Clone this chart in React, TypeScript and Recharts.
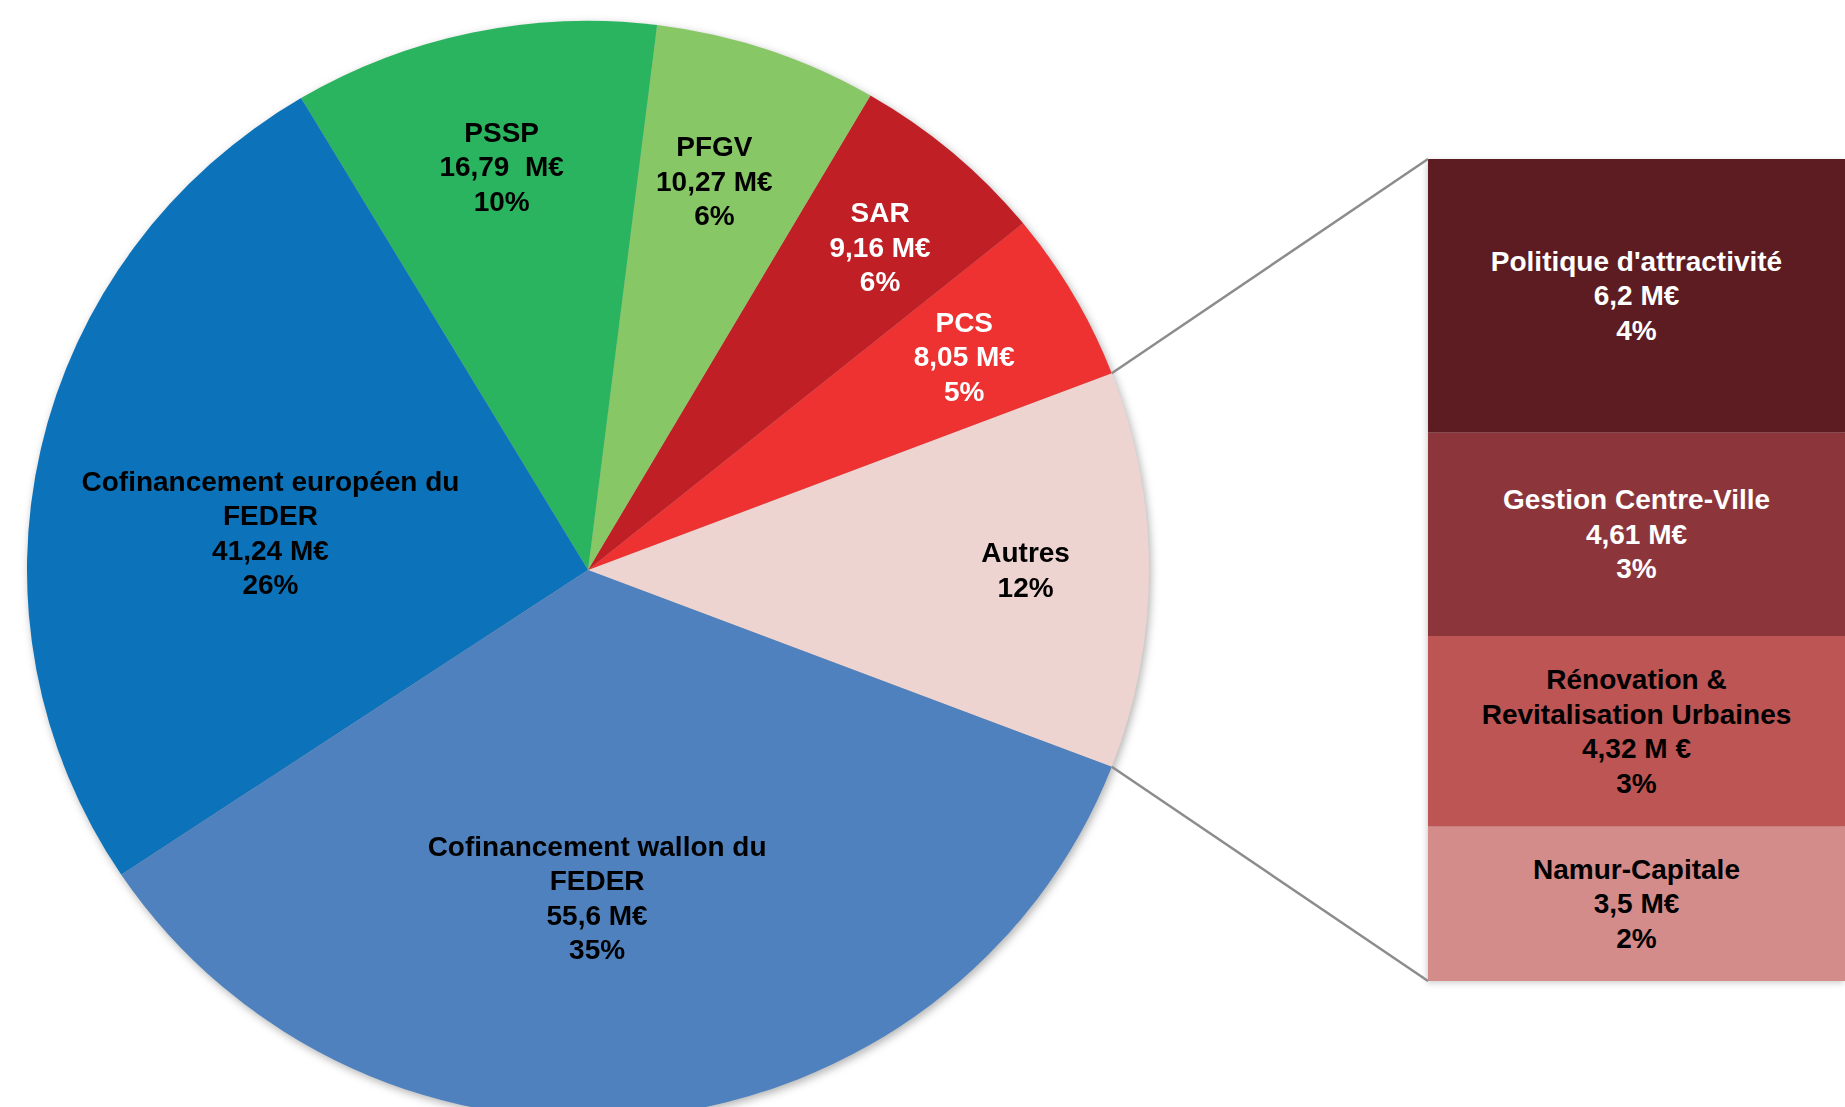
import React from "react";
import { PieChart, Pie, Cell, BarChart, Bar, XAxis, YAxis, LabelList } from "recharts";

// main pie, listed counter-clockwise starting at 3 o'clock with "Autres"
const pieNames = ["Autres", "PCS", "SAR", "PFGV", "PSSP", "Cofinancement européen du\nFEDER", "Cofinancement wallon du\nFEDER"];
const pieValues = [18.63, 8.05, 9.16, 10.27, 16.79, 41.24, 55.6];
const pieAmounts = ["", "8,05 M€", "9,16 M€", "10,27 M€", "16,79  M€", "41,24 M€", "55,6 M€"];
const piePercents = ["12%", "5%", "6%", "6%", "10%", "26%", "35%"];
const pieColors = ["#EED4D1", "#EE3131", "#C11F26", "#88C765", "#2BB45F", "#0C72B9", "#4E81BD"];
const pieTextColors = ["#000", "#fff", "#fff", "#000", "#000", "#000", "#000"];

// breakdown of "Autres", top to bottom
const barNames = ["Politique d'attractivité", "Gestion Centre-Ville", "Rénovation &\nRevitalisation Urbaines", "Namur-Capitale"];
const barValues = [6.2, 4.61, 4.32, 3.5];
const barAmounts = ["6,2 M€", "4,61 M€", "4,32 M €", "3,5 M€"];
const barPercents = ["4%", "3%", "3%", "2%"];
const barColors = ["#5C1C21", "#8C363B", "#BE5555", "#D48C8B"];
const barTextColors = ["#fff", "#fff", "#000", "#000"];

const W = 1845;
const H = 1107;
const PIE_H = H + 40; // taller than the page so the squashed pie still runs off the bottom
const CX = 588;
const CY = 570;
const R = 561;
const SQUASH = 0.979; // the original pie is a touch flatter than it is wide
const BAR_X = 1428;
const BAR_Y = 159;
const BAR_W = W - BAR_X;
const BAR_H = 822;
const FONT = "'Liberation Sans', Arial, sans-serif";
const FS = 28;
const LH = 34.5;
const RAD = Math.PI / 180;

// label placement per slice: radius ratio and angle nudge (deg)
const labelPos = [
  { r: 0.78, da: 0 },
  { r: 0.775, da: 0 },
  { r: 0.785, da: -1 },
  { r: 0.743, da: 1 },
  { r: 0.75, da: 0 },
  { r: 0.57, da: 6 },
  { r: 0.598, da: -4.8 },
];

const pieTotal = pieValues.reduce((a, b) => a + b, 0);
const START = -((pieValues[0] / pieTotal) * 360) / 2;

const pieData = pieNames.map((name, i) => ({ name, value: pieValues[i] }));

const barRow: Record<string, number | string> = { name: "Autres" };
barValues.forEach((v, i) => (barRow["s" + i] = v));

const MultiLine = ({ x, y, lines, fill, lh }: { x: number; y: number; lines: string[]; fill: string; lh: number }) => (
  <text
    x={x}
    y={y}
    textAnchor="middle"
    fontFamily={FONT}
    fontWeight="bold"
    fontSize={FS}
    fill={fill}
    style={{ whiteSpace: "pre" }}
  >
    {lines.map((l, k) => (
      <tspan key={k} x={x} y={y + (k - (lines.length - 1) / 2) * lh} dominantBaseline="central">
        {l}
      </tspan>
    ))}
  </text>
);

const renderPieLabel = (props: any) => {
  const { cx, cy, midAngle, outerRadius, index } = props;
  const pos = labelPos[index];
  const a = (midAngle + pos.da) * RAD;
  const r = outerRadius * pos.r;
  const x = cx + r * Math.cos(a);
  const y = cy - r * Math.sin(a);
  const lines = pieNames[index].split("\n");
  if (pieAmounts[index]) lines.push(pieAmounts[index]);
  lines.push(piePercents[index]);
  return <MultiLine key={index} x={x} y={y} lines={lines} fill={pieTextColors[index]} lh={LH / SQUASH} />;
};

const renderBarLabel = (props: any, i: number) => {
  const x = Number(props.x) + Number(props.width) / 2;
  const y = Number(props.y) + Number(props.height) / 2;
  const lines = [...barNames[i].split("\n"), barAmounts[i], barPercents[i]];
  return <MultiLine x={x} y={y} lines={lines} fill={barTextColors[i]} lh={LH} />;
};

const PieLayer = ({ labels }: { labels: boolean }) => (
  <PieChart width={W} height={PIE_H} margin={{ top: 0, right: 0, bottom: 0, left: 0 }}>
    <Pie
      data={pieData}
      dataKey="value"
      nameKey="name"
      cx={CX}
      cy={CY}
      outerRadius={R}
      startAngle={START}
      endAngle={START + 360}
      stroke="none"
      isAnimationActive={false}
      label={labels ? renderPieLabel : false}
      labelLine={false}
    >
      {pieData.map((d, i) => (
        <Cell key={d.name} fill={labels ? "transparent" : pieColors[i]} />
      ))}
    </Pie>
  </PieChart>
);

const squashStyle: React.CSSProperties = {
  position: "absolute",
  left: 0,
  top: 0,
  transform: `scaleY(${SQUASH})`,
  transformOrigin: `0px ${CY}px`,
};

export default function App() {
  // connector lines go from the edges of the "Autres" slice to the bar corners
  const a = START * RAD;
  const px = CX + R * Math.cos(a);
  const pyTop = CY + R * Math.sin(a) * SQUASH;
  const pyBot = CY - R * Math.sin(a) * SQUASH;
  const order = barValues.map((_, i) => i).reverse(); // stack bottom-up

  return (
    <div style={{ position: "absolute", left: 0, top: 0, width: W, height: H, overflow: "hidden", background: "#fff" }}>
      <div style={{ position: "absolute", left: 0, top: 0, filter: "drop-shadow(2px 3px 4px rgba(0,0,0,0.3))" }}>
        <div style={{ ...squashStyle }}>
          <PieLayer labels={false} />
        </div>
      </div>
      <div style={{ position: "absolute", left: BAR_X, top: BAR_Y, filter: "drop-shadow(-1px 2px 3px rgba(0,0,0,0.2))" }}>
        <BarChart width={BAR_W} height={BAR_H} data={[barRow]} margin={{ top: 0, right: 0, bottom: 0, left: 0 }} barCategoryGap={0} barGap={0}>
          <XAxis dataKey="name" hide />
          <YAxis hide domain={[0, "dataMax"]} />
          {order.map((i) => (
            <Bar key={i} dataKey={"s" + i} stackId="a" fill={barColors[i]} isAnimationActive={false} />
          ))}
        </BarChart>
      </div>
      <div style={{ position: "absolute", left: BAR_X, top: BAR_Y }}>
        <BarChart width={BAR_W} height={BAR_H} data={[barRow]} margin={{ top: 0, right: 0, bottom: 0, left: 0 }} barCategoryGap={0} barGap={0}>
          <XAxis dataKey="name" hide />
          <YAxis hide domain={[0, "dataMax"]} />
          {order.map((i) => (
            <Bar key={i} dataKey={"s" + i} stackId="a" fill="transparent" isAnimationActive={false}>
              <LabelList dataKey={"s" + i} content={(p: any) => renderBarLabel(p, i)} />
            </Bar>
          ))}
        </BarChart>
      </div>
      <div style={squashStyle}>
        <PieLayer labels={true} />
      </div>
      <svg width={W} height={H} style={{ position: "absolute", left: 0, top: 0, pointerEvents: "none" }}>
        <line x1={px} y1={pyTop} x2={BAR_X} y2={BAR_Y} stroke="#8C8C8C" strokeWidth={2.5} />
        <line x1={px} y1={pyBot} x2={BAR_X} y2={BAR_Y + BAR_H} stroke="#8C8C8C" strokeWidth={2.5} />
      </svg>
    </div>
  );
}
